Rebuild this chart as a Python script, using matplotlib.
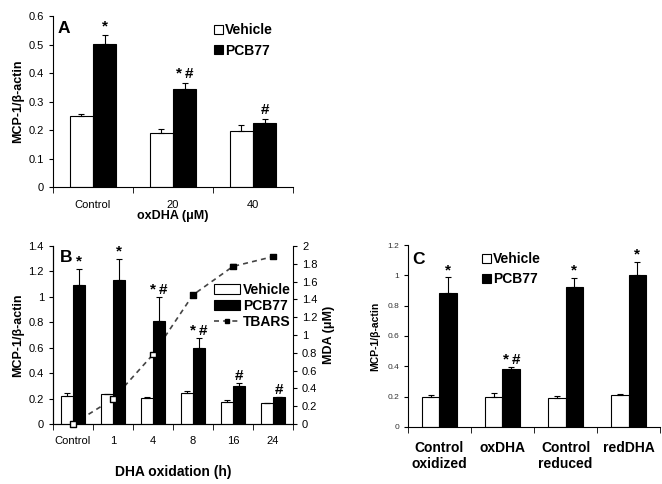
import numpy as np
import matplotlib
matplotlib.use('Agg')
import matplotlib.pyplot as plt

plt.rcParams['font.family'] = ['Liberation Sans', 'DejaVu Sans']

# panel A
a_labels = ['Control', '20', '40']
a_veh = [0.25, 0.19, 0.197]
a_veh_err = [0.005, 0.013, 0.022]
a_pcb = [0.503, 0.343, 0.223]
a_pcb_err = [0.03, 0.023, 0.017]
a_marks = ['*', '*#', '#']

# panel B
b_labels = ['Control', '1', '4', '8', '16', '24']
b_veh = [0.22, 0.235, 0.205, 0.24, 0.175, 0.165]
b_veh_err = [0.025, 0.004, 0.01, 0.02, 0.015, 0.0]
b_pcb = [1.09, 1.13, 0.81, 0.60, 0.30, 0.21]
b_pcb_err = [0.13, 0.17, 0.185, 0.08, 0.02, 0.005]
b_marks = ['*', '*', '*#', '*#', '#', '#']
tbars = [0.0, 0.28, 0.78, 1.45, 1.77, 1.88]
tbars_err = [0.0, 0.0, 0.0, 0.02, 0.03, 0.0]
tbars_fill = ['white', 'white', 'white', 'black', 'black', 'black']

# panel C
c_labels = ['Control\noxidized', 'oxDHA', 'Control\nreduced', 'redDHA']
c_veh = [0.195, 0.195, 0.19, 0.21]
c_veh_err = [0.015, 0.03, 0.017, 0.01]
c_pcb = [0.883, 0.385, 0.925, 1.0]
c_pcb_err = [0.105, 0.013, 0.06, 0.09]
c_marks = ['*', '*#', '*', '*']


def bars(ax, veh, veh_err, pcb, pcb_err, marks, width, ymax, off):
    n = len(veh)
    x = np.arange(n)
    z = np.zeros(n)
    ax.bar(x - width / 2, veh, width, color='white', edgecolor='black', lw=0.8,
           yerr=[z, veh_err], capsize=2.5, error_kw=dict(lw=0.8, capthick=0.8),
           label='Vehicle', zorder=2)
    ax.bar(x + width / 2, pcb, width, color='black', edgecolor='black', lw=0.8,
           yerr=[z, pcb_err], capsize=2.5, error_kw=dict(lw=0.8, capthick=0.8),
           label='PCB77', zorder=2)
    for i, m in enumerate(marks):
        top = pcb[i] + pcb_err[i] + off
        ax.text(x[i] + width / 2, top, m.replace('*', '*\u2009') if m == '*#' else m,
                ha='center', va='bottom', fontsize=11, fontweight='bold')
    ax.set_xlim(-0.5, n - 0.5)
    ax.set_ylim(0, ymax)
    ax.set_xticks(x)
    ax.set_xticks(np.arange(n + 1) - 0.5, minor=True)
    ax.tick_params(axis='x', which='major', length=0, pad=9)
    ax.tick_params(axis='x', which='minor', length=4, direction='out')
    ax.tick_params(axis='y', length=3, direction='out')
    for s in ['top', 'right']:
        ax.spines[s].set_visible(False)
    return x


fig = plt.figure(figsize=(6.62, 4.84), dpi=100)

# A
axA = fig.add_axes([0.080, 0.6136, 0.3625, 0.3533])
bars(axA, a_veh, a_veh_err, a_pcb, a_pcb_err, a_marks, 0.29, 0.6, 0.005)
axA.set_yticks(np.arange(0, 0.61, 0.1))
axA.set_yticklabels(['0', '0.1', '0.2', '0.3', '0.4', '0.5', '0.6'], fontsize=8)
axA.set_xticklabels(a_labels, fontsize=8)
axA.set_ylabel('MCP-1/\u03b2-actin', fontsize=9, fontweight='bold', labelpad=3)
axA.set_xlabel('oxDHA (\u03bcM)', fontsize=9, fontweight='bold', labelpad=0)
axA.text(0.02, 0.97, 'A', transform=axA.transAxes, fontsize=12.5,
         fontweight='bold', va='top')
axA.legend(loc='upper left', bbox_to_anchor=(0.62, 1.03), frameon=False,
           prop=dict(size=10, weight='bold'), handlelength=0.6,
           handleheight=0.6, handletextpad=0.2, labelspacing=0.45)

# B
axB = fig.add_axes([0.080, 0.124, 0.3625, 0.3678])
xb = bars(axB, b_veh, b_veh_err, b_pcb, b_pcb_err, b_marks, 0.3, 1.4, 0.0)
axB.set_yticks(np.arange(0, 1.41, 0.2))
axB.set_yticklabels(['0', '0.2', '0.4', '0.6', '0.8', '1', '1.2', '1.4'], fontsize=8)
axB.set_xticklabels(b_labels, fontsize=8)
axB.set_ylabel('MCP-1/\u03b2-actin', fontsize=9, fontweight='bold', labelpad=3)
axB.set_xlabel('DHA oxidation (h)', fontsize=10, fontweight='bold', labelpad=13)
axB.text(0.03, 0.975, 'B', transform=axB.transAxes, fontsize=12.5,
         fontweight='bold', va='top')
axB2 = axB.twinx()
axB2.errorbar(xb, tbars, yerr=[np.zeros(6), tbars_err], color='#444444', ls='--',
              lw=1.2, dashes=(3, 2.5), capsize=2, elinewidth=0.8, zorder=1)
axB2.set_ylim(0, 2)
axB2.set_yticks(np.arange(0, 2.01, 0.2))
axB2.set_yticklabels(['0', '0.2', '0.4', '0.6', '0.8', '1', '1.2', '1.4',
                      '1.6', '1.8', '2'], fontsize=8)
axB2.tick_params(axis='y', length=3, direction='out')
axB2.spines['top'].set_visible(False)
axB2.set_ylabel('MDA (\u03bcM)', fontsize=9, fontweight='bold', labelpad=4)
# line behind the bars, markers in front
axB.set_zorder(axB2.get_zorder() + 1)
axB.patch.set_visible(False)
axB.scatter(xb, tbars, s=14, marker='s', c=tbars_fill, edgecolors='black',
            linewidths=1, transform=axB2.transData, zorder=4, clip_on=False)
tb_handle = plt.Line2D([], [], color='#444444', ls='--', lw=1.2, dashes=(3, 2.5),
                       marker='s', ms=3.5, mfc='black', mec='black')
h1, l1 = axB.get_legend_handles_labels()
axB.legend(h1 + [tb_handle], l1 + ['TBARS'], loc='upper right',
           bbox_to_anchor=(1.025, 0.84), frameon=False,
           prop=dict(size=10, weight='bold'), handlelength=1.9,
           handleheight=0.75, handletextpad=0.2, labelspacing=0.15,
           borderpad=0.1)

# C
axC = fig.add_axes([0.6163, 0.1178, 0.3807, 0.376])
bars(axC, c_veh, c_veh_err, c_pcb, c_pcb_err, c_marks, 0.28, 1.2, 0.0)
axC.set_yticks(np.arange(0, 1.21, 0.2))
axC.set_yticklabels(['0', '0.2', '0.4', '0.6', '0.8', '1', '1.2'], fontsize=6,
                    color='#333333')
axC.set_xticklabels(c_labels, fontsize=10, fontweight='bold')
axC.tick_params(axis='x', which='major', pad=10)
axC.set_ylabel('MCP-1/\u03b2-actin', fontsize=7.5, fontweight='bold', labelpad=5)
axC.text(0.015, 0.96, 'C', transform=axC.transAxes, fontsize=12.5,
         fontweight='bold', va='top')
axC.legend(loc='upper left', bbox_to_anchor=(0.245, 1.03), frameon=False,
           prop=dict(size=10, weight='bold'), handlelength=0.6,
           handleheight=0.6, handletextpad=0.2, labelspacing=0.45)

fig.savefig('out.png', dpi=100)
